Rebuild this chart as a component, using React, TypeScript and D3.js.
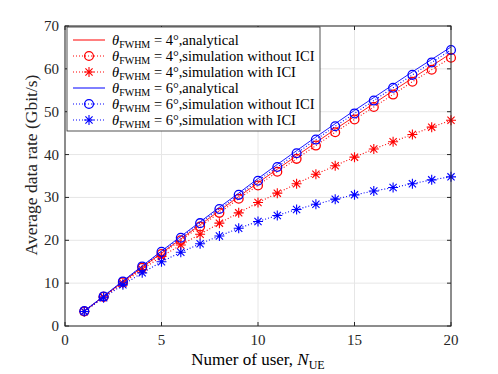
import React from 'react';
import * as d3 from 'd3';

const users = d3.range(1, 21);

// theta_FWHM = 4 deg
const red4Analytical = [3.45, 6.9, 10.3, 13.7, 17.0, 20.3, 23.6, 26.9, 30.2, 33.4, 36.6, 39.7, 42.8, 45.9, 48.9, 51.9, 54.9, 57.8, 60.7, 63.6];
const red4NoICI = [3.4, 6.8, 10.2, 13.6, 16.8, 20.0, 23.2, 26.4, 29.7, 32.8, 36.0, 39.0, 42.1, 45.2, 48.2, 51.1, 54.0, 57.0, 59.8, 62.6];
const red4ICI = [3.4, 6.8, 10.0, 13.2, 16.2, 18.9, 21.4, 24.0, 26.4, 28.8, 31.0, 33.2, 35.4, 37.4, 39.4, 41.3, 43.0, 44.7, 46.4, 48.0];
// theta_FWHM = 6 deg
const blue6Analytical = [3.5, 7.0, 10.5, 14.0, 17.5, 20.9, 24.3, 27.7, 31.0, 34.4, 37.7, 40.9, 44.1, 47.2, 50.3, 53.3, 56.3, 59.3, 62.2, 65.1];
const blue6NoICI = [3.5, 6.9, 10.4, 13.9, 17.3, 20.6, 24.0, 27.3, 30.6, 33.9, 37.1, 40.3, 43.5, 46.6, 49.6, 52.6, 55.6, 58.6, 61.5, 64.4];
const blue6ICI = [3.4, 6.6, 9.6, 12.4, 15.0, 17.2, 19.2, 21.0, 22.8, 24.4, 25.8, 27.2, 28.4, 29.6, 30.6, 31.5, 32.3, 33.2, 34.1, 34.8];

const xTicks = [0, 5, 10, 15, 20];
const yTicks = [0, 10, 20, 30, 40, 50, 60, 70];

type Series = { angle: string; label: string; color: string; values: number[]; dotted: boolean; marker: 'none' | 'circle' | 'star' };

const series: Series[] = [
  { angle: '4', label: 'analytical', color: '#ff0000', values: red4Analytical, dotted: false, marker: 'none' },
  { angle: '4', label: 'simulation without ICI', color: '#ff0000', values: red4NoICI, dotted: true, marker: 'circle' },
  { angle: '4', label: 'simulation with ICI', color: '#ff0000', values: red4ICI, dotted: true, marker: 'star' },
  { angle: '6', label: 'analytical', color: '#0000ff', values: blue6Analytical, dotted: false, marker: 'none' },
  { angle: '6', label: 'simulation without ICI', color: '#0000ff', values: blue6NoICI, dotted: true, marker: 'circle' },
  { angle: '6', label: 'simulation with ICI', color: '#0000ff', values: blue6ICI, dotted: true, marker: 'star' },
];

const W = 498;
const H = 374;
const m = { left: 65, right: 47, top: 26, bottom: 48 };
const font = '"Liberation Serif", "Times New Roman", serif';
const axisColor = '#262626';

const Marker = ({ kind, x, y, color }: { kind: string; x: number; y: number; color: string }) => {
  if (kind === 'circle') {
    return <circle cx={x} cy={y} r={4.4} fill="none" stroke={color} strokeWidth={1.3} />;
  }
  if (kind === 'star') {
    const r = 5;
    const d = r * 0.72;
    return (
      <path
        d={`M${x - r},${y}H${x + r}M${x},${y - r}V${y + r}M${x - d},${y - d}L${x + d},${y + d}M${x - d},${y + d}L${x + d},${y - d}`}
        stroke={color}
        strokeWidth={1.1}
        fill="none"
      />
    );
  }
  return null;
};

export default function App() {
  const x = d3.scaleLinear().domain([0, 20]).range([m.left, W - m.right]);
  const y = d3.scaleLinear().domain([0, 70]).range([H - m.bottom, m.top]);
  const line = d3.line<number>().x((_, i) => x(users[i])).y((d) => y(d));

  const [x0, x1] = x.range();
  const [y0, y1] = y.range();

  const legX = 67;
  const legY = 27;
  const rowH = 16;

  return (
    <svg width={W} height={H} style={{ position: 'absolute', left: 0, top: 0, background: '#fff' }} fontFamily={font}>
      <rect x={0} y={0} width={W} height={H} fill="#fff" />
      {/* grid */}
      {xTicks.map((t) => (
        <line key={'gx' + t} x1={x(t)} x2={x(t)} y1={y0} y2={y1} stroke="#e6e6e6" strokeWidth={1} />
      ))}
      {yTicks.map((t) => (
        <line key={'gy' + t} x1={x0} x2={x1} y1={y(t)} y2={y(t)} stroke="#e6e6e6" strokeWidth={1} />
      ))}

      {/* data */}
      {series.map((s, si) => (
        <g key={si}>
          <path
            d={line(s.values) || ''}
            fill="none"
            stroke={s.color}
            strokeWidth={s.dotted ? 1.1 : 0.9}
            strokeDasharray={s.dotted ? '1,2' : undefined}
          />
          {s.values.map((v, i) => (
            <Marker key={i} kind={s.marker} x={x(users[i])} y={y(v)} color={s.color} />
          ))}
        </g>
      ))}

      {/* box and ticks */}
      <rect x={x0} y={y1} width={x1 - x0} height={y0 - y1} fill="none" stroke={axisColor} strokeWidth={1} />
      {xTicks.map((t) => (
        <g key={'tx' + t}>
          <line x1={x(t)} x2={x(t)} y1={y0} y2={y0 - 4} stroke={axisColor} />
          <line x1={x(t)} x2={x(t)} y1={y1} y2={y1 + 4} stroke={axisColor} />
          <text x={x(t)} y={y0 + 19} textAnchor="middle" fontSize={15} fill={axisColor}>
            {t}
          </text>
        </g>
      ))}
      {yTicks.map((t) => (
        <g key={'ty' + t}>
          <line x1={x0} x2={x0 + 4} y1={y(t)} y2={y(t)} stroke={axisColor} />
          <line x1={x1} x2={x1 - 4} y1={y(t)} y2={y(t)} stroke={axisColor} />
          <text x={x0 - 6} y={y(t) + 5} textAnchor="end" fontSize={15} fill={axisColor}>
            {t}
          </text>
        </g>
      ))}

      {/* axis labels */}
      <text x={(x0 + x1) / 2} y={H - 9} textAnchor="middle" fontSize={17} fill="#000">
        Numer of user, <tspan fontStyle="italic">N</tspan>
        <tspan fontSize={12} dy={4}>UE</tspan>
      </text>
      <text
        transform={`translate(${37},${165}) rotate(-90)`}
        textAnchor="middle"
        fontSize={17.5}
        fill={axisColor}
      >
        Average data rate (Gbit/s)
      </text>

      {/* legend */}
      <rect x={legX} y={legY} width={253} height={104} fill="#fff" stroke={axisColor} strokeWidth={0.8} />
      {series.map((s, i) => {
        const cy = legY + 13 + i * rowH;
        return (
          <g key={'lg' + i}>
            <line
              x1={legX + 6}
              x2={legX + 38}
              y1={cy}
              y2={cy}
              stroke={s.color}
              strokeWidth={1}
              strokeDasharray={s.dotted ? '1,2' : undefined}
            />
            <Marker kind={s.marker} x={legX + 22} y={cy} color={s.color} />
            <text x={legX + 45} y={cy + 4.5} fontSize={14.5} fill="#000">
              <tspan fontStyle="italic">θ</tspan>
              <tspan fontSize={10} dy={3}>FWHM</tspan>
              <tspan dy={-3}>{` = ${s.angle}°,${s.label}`}</tspan>
            </text>
          </g>
        );
      })}
    </svg>
  );
}
